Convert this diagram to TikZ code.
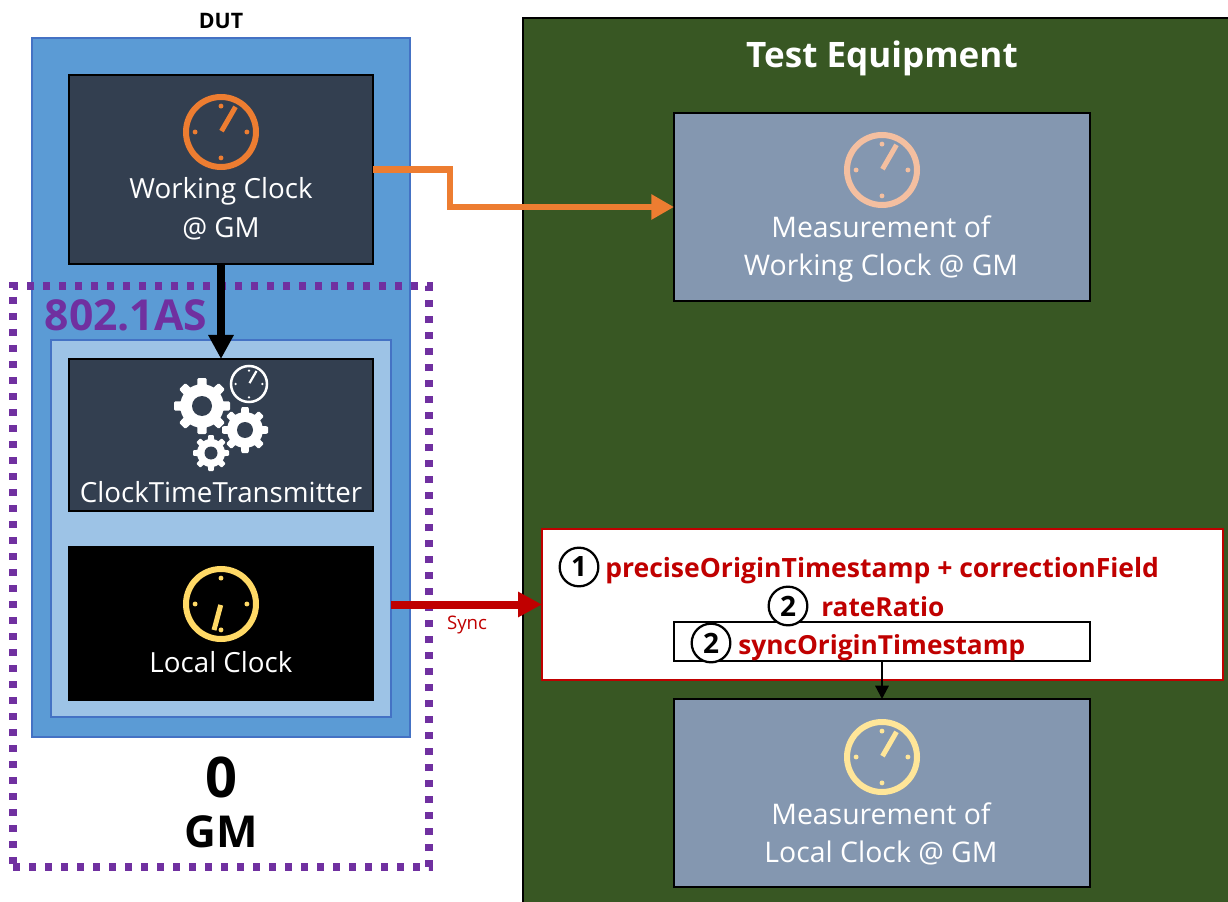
\documentclass[tikz,border=0pt]{standalone}
\usepackage{fontspec}
\setmainfont{Open Sans}
\usetikzlibrary{arrows.meta}
\definecolor{darkslate}{HTML}{333F50}
\definecolor{midslate}{HTML}{8497B0}
\definecolor{dutblue}{HTML}{5B9BD5}
\definecolor{inblue}{HTML}{9DC3E6}
\definecolor{edgeblue}{HTML}{4472C4}
\definecolor{testgreen}{HTML}{385723}
\definecolor{purp}{HTML}{7030A0}
\definecolor{redc}{HTML}{C00000}
\definecolor{orangec}{HTML}{ED7D31}
\definecolor{orangel}{HTML}{F4BFA0}
\definecolor{yellowc}{HTML}{FFD966}
\definecolor{yellowl}{HTML}{FFE699}
\newcommand\fsz[1]{\fontsize{#1}{#1}\selectfont}
% centre x, centre y, radius, ring width (px), colour, hand angle, hand length, hand width
\newcommand\clockicon[8]{%
  \draw[#5,line width=#4*0.75pt] (#1,#2) circle[radius=#3];
  \foreach \a in {0,90,180,270}{\fill[#5] (#1,#2) ++(\a:{-#3*0.74}) circle[radius={#3*0.07}];}
  \draw[#5,line width=#8*0.75pt] (#1,#2) ++(#6:1) -- ++(#6:#7);
}
% centre x, centre y, outer radius, hole radius
\newcommand\gearicon[4]{%
  \fill[white] (#1,#2) circle[radius={#3*0.78}];
  \foreach \a in {0,45,...,315}{
    \fill[white,rounded corners=0.8pt,rotate around={\a:(#1,#2)}]
      ({#1-#3*0.2},#2) -- ({#1-#3*0.16},{#2-#3}) -- ({#1+#3*0.16},{#2-#3}) -- ({#1+#3*0.2},#2) -- cycle;}
  \fill[darkslate] (#1,#2) circle[radius=#4];
}
\tikzset{
  x=0.75pt,y=-0.75pt,
  sz/.style 2 args={minimum width=#1*0.75pt,minimum height=#2*0.75pt,inner sep=0pt,outer sep=0pt},
  darkbox/.style={draw=black,line width=2pt,fill=darkslate},
  blackbox/.style={draw=black,line width=2pt,fill=black},
  measbox/.style={draw=black,line width=2pt,fill=midslate},
  whitetxt/.style={text=white,anchor=base,font=\fsz{20.8},inner sep=0pt},
  meastxt/.style={text=white,anchor=base,font=\fsz{21.3},inner sep=0pt},
  redtxt/.style={text=redc,anchor=base west,font=\bfseries\fsz{19.9},inner sep=0pt},
  redtxtb/.style={redtxt,font=\bfseries\fsz{19.7}},
  numcirc/.style={circle,draw=black,line width=1.7pt,fill=white,minimum size=29pt,inner sep=0pt,font=\bfseries\fsz{21}},
  thickarrow/.style={line width=6pt,-{Triangle[length=18pt,width=18pt]}},
}
\begin{document}
\begin{tikzpicture}
\clip (0,0) rectangle (1228,902);
\fill[white] (0,0) rectangle (1228,902);
% backgrounds
\node[sz={740}{900},draw=black,line width=2.2pt,fill=testgreen] (test) at (893,468) {};
\node[sz={378}{699},draw=edgeblue,line width=1.6pt,fill=dutblue] (dut) at (221,387.5) {};
\node[sz={340}{377},draw=edgeblue,line width=1.6pt,fill=inblue] (inner) at (221,528.5) {};
% boxes
\node[sz={304}{189},darkbox] (wc) at (221,169.5) {};
\node[sz={304}{152},darkbox] (ctt) at (221,435) {};
\node[sz={304}{153},blackbox] (lc) at (221,623.5) {};
\node[sz={416}{188},measbox] (mw) at (882,207) {};
\node[sz={416}{188},measbox] (ml) at (882,793) {};
\node[sz={681}{151},draw=redc,line width=1.9pt,fill=white] (red) at (882.5,604.5) {};
\node[sz={416}{39},draw=black,line width=1.6pt,fill=white] (sot) at (882,641.5) {};
% icons
\clockicon{221}{132}{35}{6}{orangec}{-60}{28}{5}
\clockicon{882}{170}{35}{6}{orangel}{-60}{28}{5}
\clockicon{221}{604}{35}{6}{yellowc}{105}{26}{5}
\clockicon{882}{757}{35}{6}{yellowl}{-60}{28}{5}
\clockicon{249}{384}{18}{2.5}{white}{-60}{14}{2.2}
\gearicon{202}{406}{28}{10}
\gearicon{245}{430}{23}{8}
\gearicon{211}{453}{18}{6.5}
% texts
\node[font=\bfseries\fsz{16},inner sep=0pt] (dutlbl) at (221,21) {DUT};
\node[font=\bfseries\fsz{26.3},text=white,inner sep=0pt] (testlbl) at (882,58) {Test Equipment};
\node[whitetxt] (t1) at (221,199) {Working Clock};
\node[whitetxt] (t2) at (221,238) {@ GM};
\node[whitetxt] (t3) at (221,502) {ClockTimeTransmitter};
\node[whitetxt] (t4) at (221,672) {Local Clock};
\node[meastxt] (t5) at (881,238) {Measurement of};
\node[meastxt] (t6) at (881,276) {Working Clock @ GM};
\node[meastxt] (t7) at (881,824) {Measurement of};
\node[meastxt] (t8) at (881,862) {Local Clock @ GM};
\node[font=\bfseries\fsz{32},text=purp,inner sep=0pt] (as) at (126,315) {802.1AS};
\node[font=\bfseries\fsz{42},inner sep=0pt] (zero) at (221,777) {0};
\node[font=\bfseries\fsz{33},inner sep=0pt] (gm) at (221,832) {GM};
% red box contents
\node[numcirc] (n1) at (579,567) {1};
\node[numcirc] (n2) at (788,606) {2};
\node[numcirc] (n3) at (711,643) {2};
\node[redtxt] (r1) at (605,577) {preciseOriginTimestamp + correctionField};
\node[redtxtb] (r2) at (821,616) {rateRatio};
\node[redtxtb] (r3) at (738,654) {syncOriginTimestamp};
\node[text=redc,font=\fsz{14},inner sep=0pt] (synclbl) at (467,625) {Sync};
% dotted GM frame
\node[sz={416}{581},draw=purp,line width=5.4pt,dash pattern=on 5.25pt off 6.75pt] (gmframe) at (221,576.5) {};
% connectors
\coordinate (elbow) at (450,207);
\coordinate (syncstart) at (391,604.5);
\draw[orangec,line width=5pt,-{Triangle[length=17pt,width=18pt]}] (wc.east) -| (elbow) -- (mw.west);
\draw[black,thickarrow] (wc.south) -- (ctt.north);
\draw[redc,thickarrow] (syncstart) -- (red.west);
\draw[black,line width=1.7pt,-{Triangle[length=10pt,width=10pt]}] (sot.south) -- (ml.north);
\end{tikzpicture}
\end{document}
